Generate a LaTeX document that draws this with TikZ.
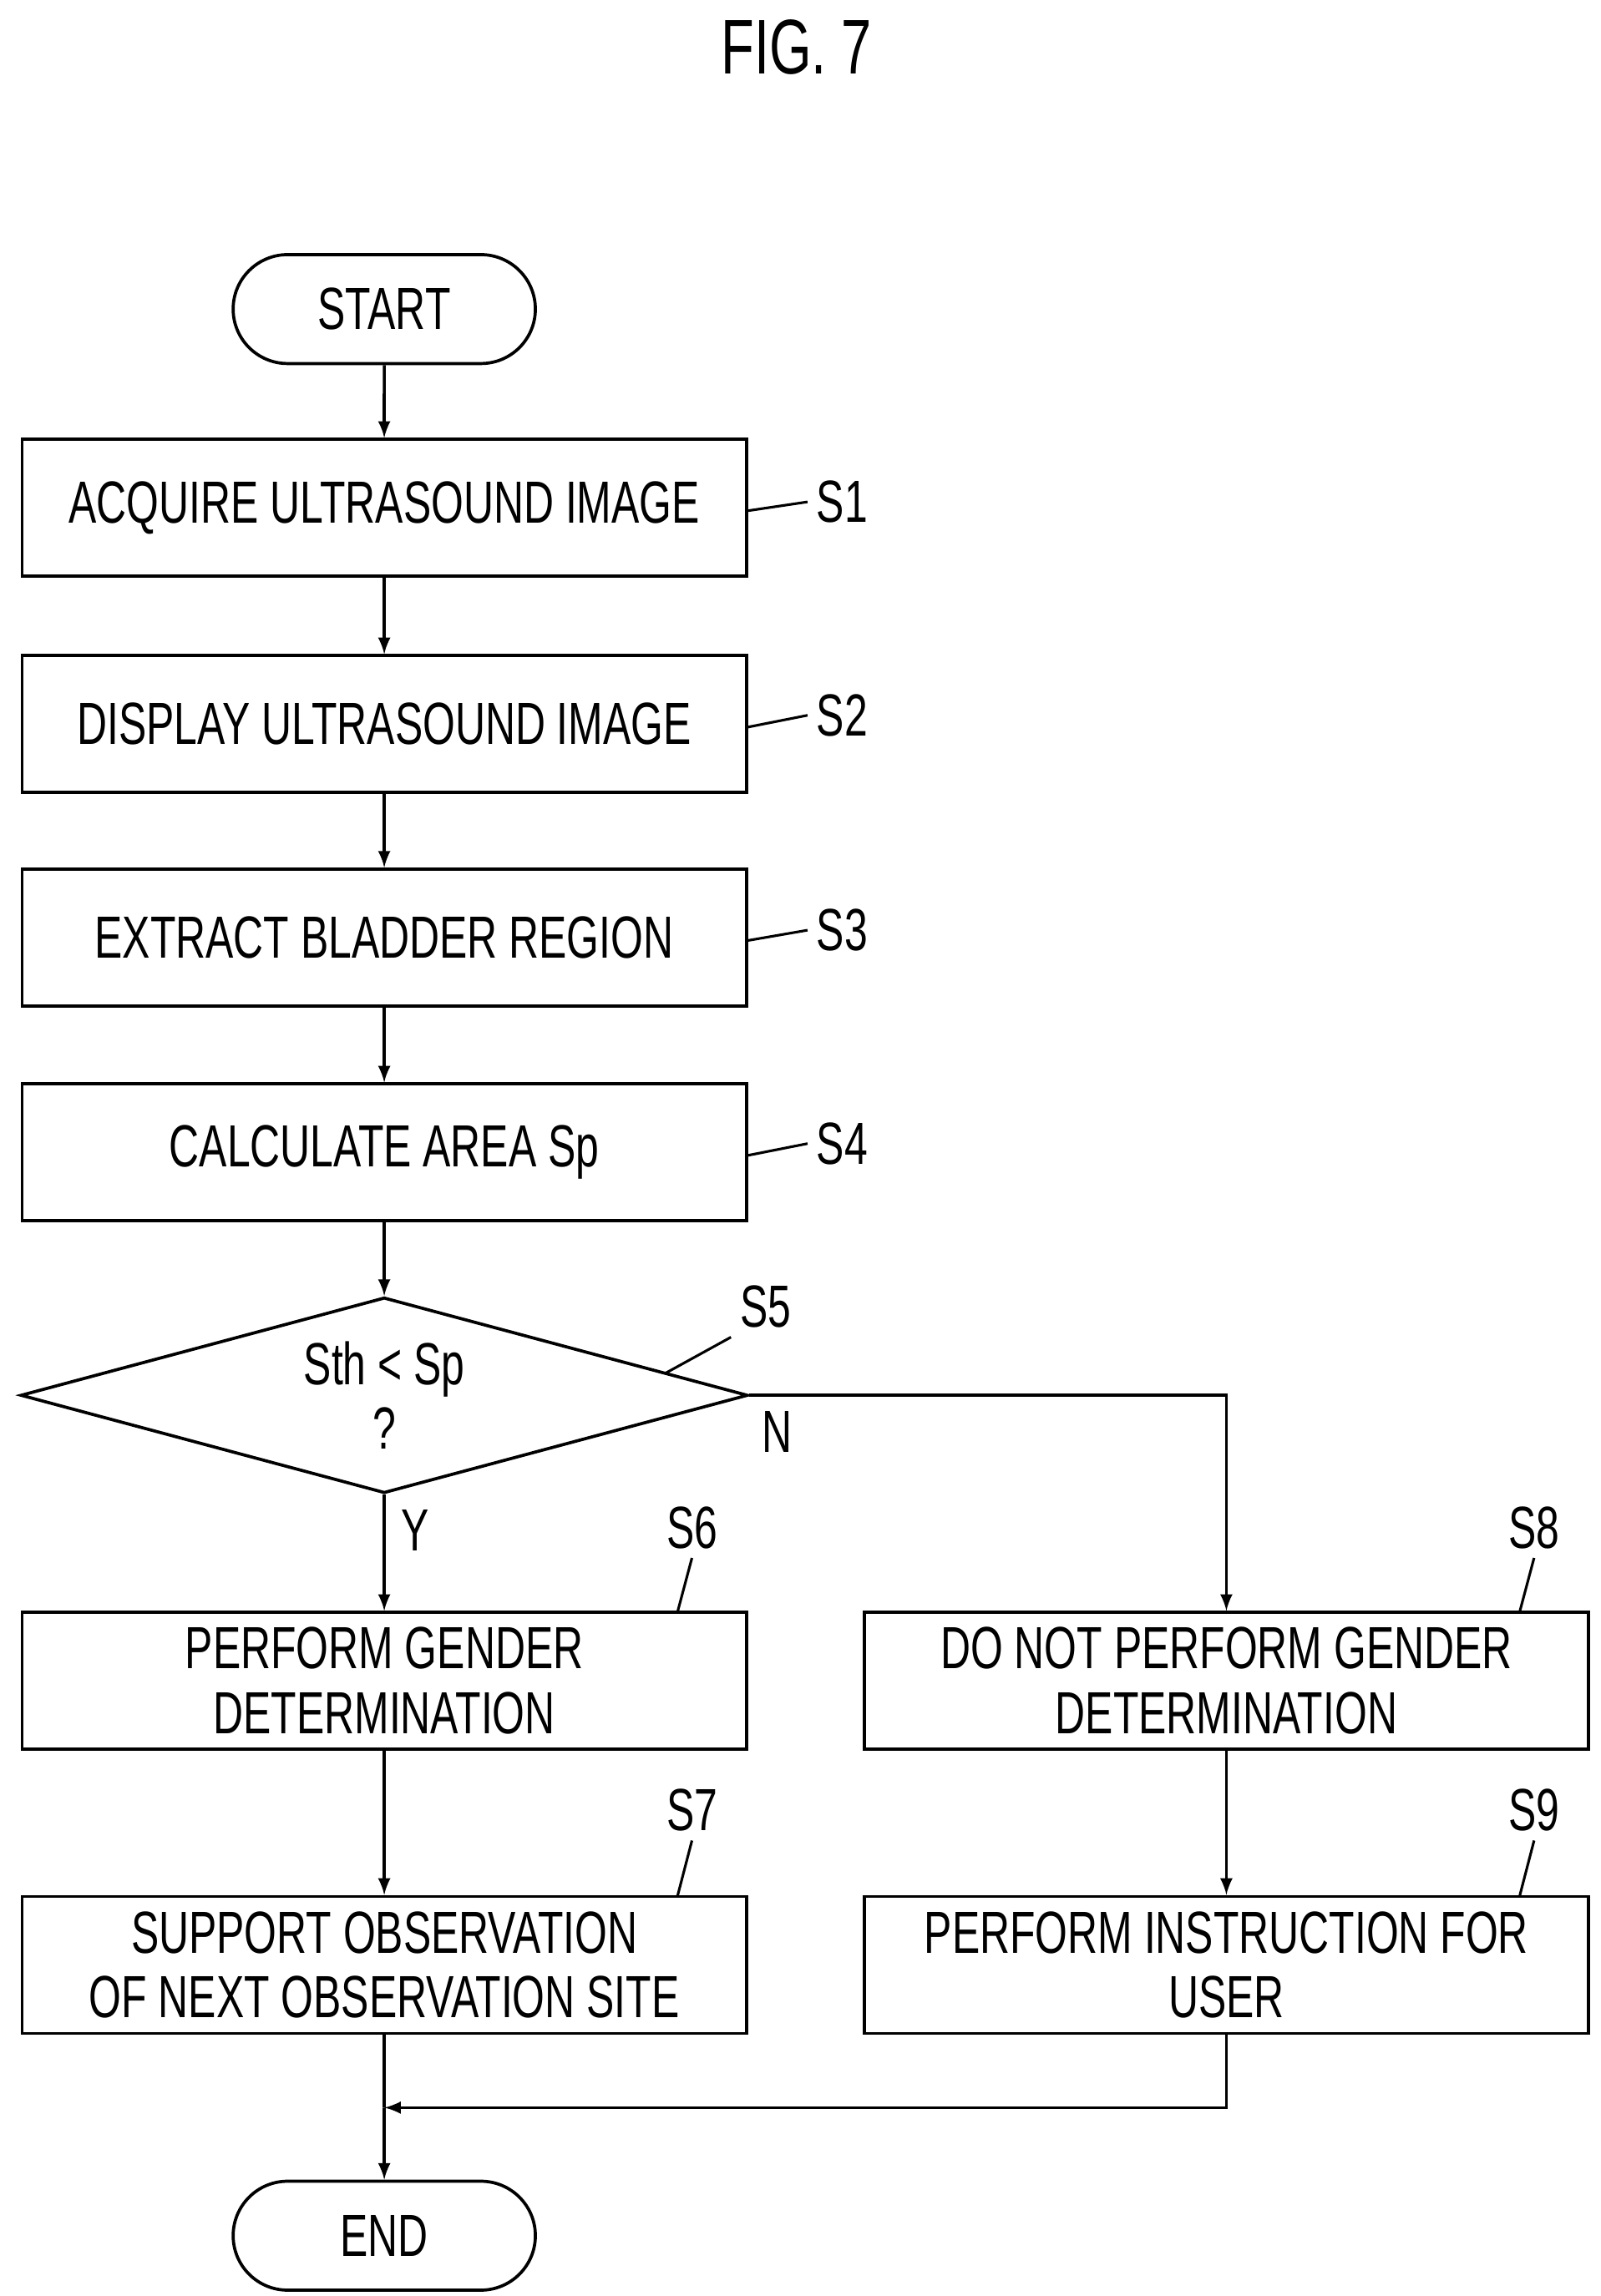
\documentclass[tikz,border=0pt]{standalone}
\usepackage{fontspec}
\setmainfont{Liberation Sans}[FakeStretch=0.7]
\usetikzlibrary{shapes,positioning}

\begin{document}
\begin{tikzpicture}
\tikzstyle{txt}=[font=\fontsize{23}{25}\selectfont]
\tikzstyle{proc}=[txt,draw,line width=1.2pt,minimum width=9.84cm,minimum height=1.86cm,align=center,inner sep=0pt]
\tikzstyle{term}=[txt,draw,line width=1.2pt,rounded rectangle,minimum width=4.34cm,minimum height=1.48cm]
\tikzstyle{dec}=[txt,draw,line width=1.2pt,diamond,aspect=3.7,minimum width=9.88cm,minimum height=2.66cm,inner sep=0pt,align=center]
\tikzstyle{flow}=[line width=1.2pt,-latex]
\tikzstyle{lead}=[line width=1pt]
\useasboundingbox (0,0) rectangle (21.74,-31.2);

\node[font=\fontsize{30}{32}\selectfont] (title) at (10.82,-0.64) {FIG. 7};

\node[term] (start) at (5.22,-4.2) {START};
\node[proc] (s1) at (5.22,-6.9) {ACQUIRE ULTRASOUND IMAGE};
\node[proc] (s2) at (5.22,-9.84) {DISPLAY ULTRASOUND IMAGE};
\node[proc] (s3) at (5.22,-12.74) {EXTRACT BLADDER REGION};
\node[proc] (s4) at (5.22,-15.66) {CALCULATE AREA Sp};
\node[dec] (s5) at (5.22,-18.96) {Sth < Sp\\?};
\node[proc] (s6) at (5.22,-22.84) {PERFORM GENDER\\DETERMINATION};
\node[proc] (s8) at (16.66,-22.84) {DO NOT PERFORM GENDER\\DETERMINATION};
\node[proc] (s7) at (5.22,-26.7) {SUPPORT OBSERVATION\\OF NEXT OBSERVATION SITE};
\node[proc] (s9) at (16.66,-26.7) {PERFORM INSTRUCTION FOR\\USER};
\node[term] (end) at (5.22,-30.38) {END};
\coordinate (merge) at (5.22,-28.64);

% step labels
\node[txt] (l1) at (11.44,-6.82) {S1};
\node[txt] (l2) at (11.44,-9.72) {S2};
\node[txt] (l3) at (11.44,-12.64) {S3};
\node[txt] (l4) at (11.44,-15.54) {S4};
\node[txt] (l5) at (10.4,-17.76) {S5};
\node[txt] (l6) at (9.4,-20.76) {S6};
\node[txt] (l7) at (9.4,-24.6) {S7};
\node[txt] (l8) at (20.84,-20.76) {S8};
\node[txt] (l9) at (20.84,-24.6) {S9};
\node[txt] (no) at (10.56,-19.46) {N};
\node[txt] (yes) at (5.64,-20.8) {Y};

\draw[lead] (s1.east) ++(0,-0.04) -- (l1.west);
\draw[lead] (s2.east) ++(0,-0.04) -- (l2.west);
\draw[lead] (s3.east) ++(0,-0.04) -- (l3.west);
\draw[lead] (s4.east) ++(0,-0.04) -- (l4.west);
\draw[lead] (9.04,-18.66) -- (l5.south west);
\draw[lead] (9.2,-21.92) -- (l6.south);
\draw[lead] (9.2,-25.78) -- (l7.south);
\draw[lead] (20.64,-21.92) -- (l8.south);
\draw[lead] (20.64,-25.78) -- (l9.south);

\draw[flow] (start) -- (s1);
\draw[flow] (s1) -- (s2);
\draw[flow] (s2) -- (s3);
\draw[flow] (s3) -- (s4);
\draw[flow] (s4) -- (s5);
\draw[flow] (s5) -- (s6);
\draw[flow] (s5.east) -| (s8.north);
\draw[flow] (s6) -- (s7);
\draw[flow] (s8) -- (s9);
\draw[line width=1.2pt] (s7) -- (merge);
\draw[flow] (s9.south) |- (merge);
\draw[flow] (merge) -- (end);
\end{tikzpicture}
\end{document}
